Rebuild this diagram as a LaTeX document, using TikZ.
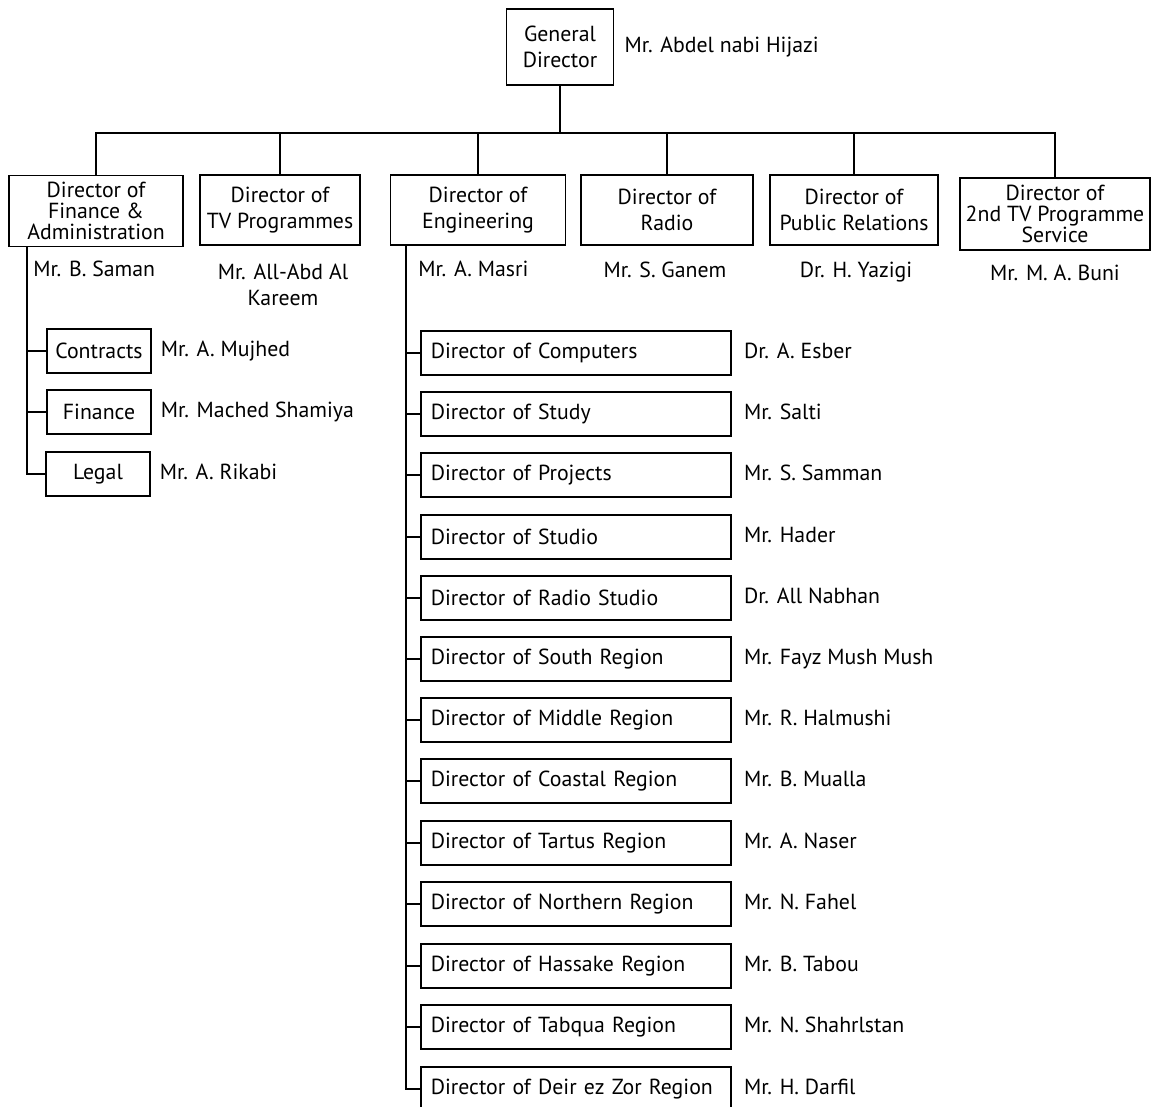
\documentclass[tikz,border=0pt]{standalone}
\usepackage{fontspec}
\setmainfont{PT Sans}
\usetikzlibrary{positioning}

\tikzset{
  boite/.style={draw, line width=1.2pt, align=center, inner sep=2pt},
  sboite/.style={draw, line width=1.2pt, minimum width=2.6cm, minimum height=1.1cm},
  eboite/.style={draw, line width=1.2pt, anchor=west, minimum height=1.1cm,
    inner xsep=0.25cm, text width=7.25cm, align=left},
  nom/.style={inner sep=0pt, text height=11pt, text depth=3pt},
  trait/.style={line width=1.2pt},
  serre/.style={font=\fontsize{15.5}{15}\selectfont}
}

\begin{document}
\begin{tikzpicture}[x=0.025cm, y=-0.025cm, font=\fontsize{15.5}{19}\selectfont]
\useasboundingbox (0,0) rectangle (1152,1106);

% Directeur general
\node[boite, minimum width=2.675cm, minimum height=1.9cm] (gd) at (560,47) {General\\Director};
\node[nom, right=0.25cm of gd] (ngd) {Mr. Abdel nabi Hijazi};

% Directeurs
\node[boite, serre, minimum width=4.35cm, minimum height=1.78cm] (fin) at (96,211) {Director of\\Finance \&\\Administration};
\node[boite, minimum width=4cm, minimum height=1.75cm] (tv) at (280,210) {Director of\\TV Programmes};
\node[boite, minimum width=4.375cm, minimum height=1.75cm] (eng) at (478,210) {Director of\\Engineering};
\node[boite, minimum width=4.3cm, minimum height=1.75cm] (radio) at (667,210) {Director of\\Radio};
\node[boite, minimum width=4.2cm, minimum height=1.75cm] (rp) at (854,210) {Director of\\Public Relations};
\node[boite, serre, minimum width=4.75cm, minimum height=1.8cm, inner xsep=0pt] (tv2) at (1055,214) {Director of\\2nd TV Programme\\Service};

% Liaisons du haut
\draw[trait] (gd.south) -- ++(0,47) coordinate (barre);
\draw[trait] (barre) -| (fin.north);
\draw[trait] (barre) -| (tv.north);
\draw[trait] (barre) -| (eng.north);
\draw[trait] (barre) -| (radio.north);
\draw[trait] (barre) -| (rp.north);
\draw[trait] (barre) -| (tv2.north);

% Noms des directeurs
\node[nom, anchor=west] (nfin) at (33,271) {Mr. B. Saman};
\node[inner sep=0pt, align=center] (ntv) at (283,285) {Mr. All-Abd Al\\Kareem};
\node[nom, anchor=west] (neng) at (418,271) {Mr. A. Masri};
\node[nom] (nradio) at (665,272) {Mr. S. Ganem};
\node[nom] (nrp) at (856,272) {Dr. H. Yazigi};
\node[nom] (ntv2) at (1055,275) {Mr. M. A. Buni};

% Finance et administration
\coordinate (fa) at ([xshift=0.475cm]fin.south west);
\node[sboite] (contrats) at (99,351) {Contracts};
\node[sboite] (finance) at (99,412) {Finance};
\node[sboite] (legal) at (98,474) {Legal};
\node[nom, right=0.22cm of contrats] {Mr. A. Mujhed};
\node[nom, right=0.22cm of finance] {Mr. Mached Shamiya};
\node[nom, right=0.22cm of legal] {Mr. A. Rikabi};
\draw[trait] (fa) |- (legal.west);
\draw[trait] (contrats.west) -- (contrats.west -| fa);
\draw[trait] (finance.west) -- (finance.west -| fa);

% Ingenierie
\coordinate (ea) at ([xshift=0.41cm]eng.south west);
\node[eboite] (e1) at (420,353) {Director of Computers};
\node[eboite] (e2) at (420,414) {Director of Study};
\node[eboite] (e3) at (420,475) {Director of Projects};
\node[eboite] (e4) at (420,537) {Director of Studio};
\node[eboite] (e5) at (420,598) {Director of Radio Studio};
\node[eboite] (e6) at (420,659) {Director of South Region};
\node[eboite] (e7) at (420,720) {Director of Middle Region};
\node[eboite] (e8) at (420,781) {Director of Coastal Region};
\node[eboite] (e9) at (420,843) {Director of Tartus Region};
\node[eboite] (e10) at (420,904) {Director of Northern Region};
\node[eboite] (e11) at (420,966) {Director of Hassake Region};
\node[eboite] (e12) at (420,1027) {Director of Tabqua Region};
\node[eboite] (e13) at (420,1089) {Director of Deir ez Zor Region};

\node[nom, right=0.3cm of e1] {Dr. A. Esber};
\node[nom, right=0.3cm of e2] {Mr. Salti};
\node[nom, right=0.3cm of e3] {Mr. S. Samman};
\node[nom, right=0.3cm of e4] {Mr. Hader};
\node[nom, right=0.3cm of e5] {Dr. All Nabhan};
\node[nom, right=0.3cm of e6] {Mr. Fayz Mush Mush};
\node[nom, right=0.3cm of e7] {Mr. R. Halmushi};
\node[nom, right=0.3cm of e8] {Mr. B. Mualla};
\node[nom, right=0.3cm of e9] {Mr. A. Naser};
\node[nom, right=0.3cm of e10] {Mr. N. Fahel};
\node[nom, right=0.3cm of e11] {Mr. B. Tabou};
\node[nom, right=0.3cm of e12] {Mr. N. Shahrlstan};
\node[nom, right=0.3cm of e13] {Mr. H. Darfil};

\draw[trait] (ea) |- (e13.west);
\draw[trait] (e1.west) -- (e1.west -| ea);
\draw[trait] (e2.west) -- (e2.west -| ea);
\draw[trait] (e3.west) -- (e3.west -| ea);
\draw[trait] (e4.west) -- (e4.west -| ea);
\draw[trait] (e5.west) -- (e5.west -| ea);
\draw[trait] (e6.west) -- (e6.west -| ea);
\draw[trait] (e7.west) -- (e7.west -| ea);
\draw[trait] (e8.west) -- (e8.west -| ea);
\draw[trait] (e9.west) -- (e9.west -| ea);
\draw[trait] (e10.west) -- (e10.west -| ea);
\draw[trait] (e11.west) -- (e11.west -| ea);
\draw[trait] (e12.west) -- (e12.west -| ea);

\end{tikzpicture}
\end{document}
